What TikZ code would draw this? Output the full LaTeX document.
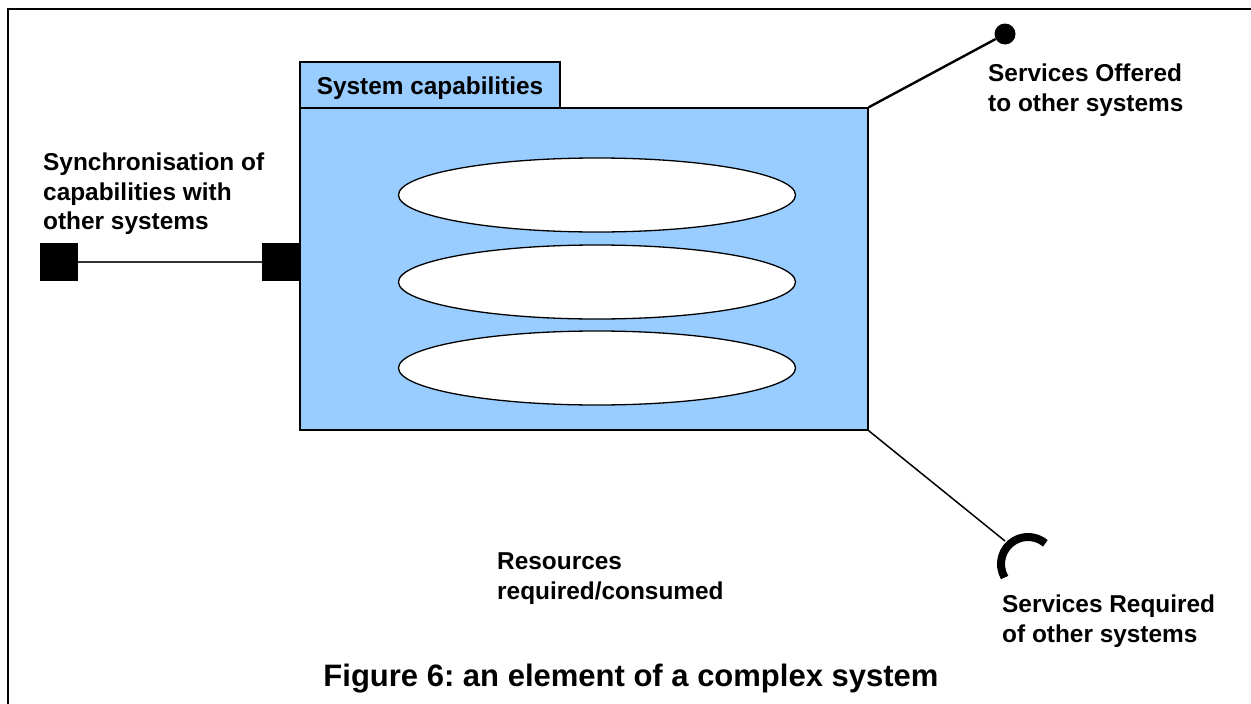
\documentclass[tikz,border=0pt]{standalone}
\usepackage{fontspec}
\setmainfont{Liberation Sans}
\usetikzlibrary{shapes.geometric}
\definecolor{capblue}{HTML}{99CCFF}
\frenchspacing
\begin{document}
\begin{tikzpicture}[x=1pt,y=-1pt,
  lbl/.style={font=\fontsize{24.4}{29.3}\selectfont\bfseries, inner sep=0pt, align=left, anchor=north west},
  capbox/.style={draw=black, line width=1.5pt, fill=capblue, rectangle, inner sep=0pt},
  usecase/.style={draw=black, line width=1.3pt, fill=white, ellipse, inner sep=0pt,
                  minimum width=397pt, minimum height=74pt},
  port/.style={fill=black, rectangle, inner sep=0pt, minimum size=38pt},
  offered/.style={fill=black, circle, inner sep=0pt, minimum size=21pt}]
  \useasboundingbox (0,0) rectangle (1251,704);
  \fill[white] (0,0) rectangle (1251,704);
  % outer frame (left and top edges)
  \draw[line width=2pt] (8,704) -- (8,9) -- (1251,9);

  % component body with its title tab
  \node[capbox, minimum width=260pt, minimum height=46pt] (tab) at (430,85) {};
  \node[lbl, anchor=base] at (430,94) {System capabilities};
  \node[capbox, minimum width=568pt, minimum height=322pt] (sys) at (584,269) {};

  % capabilities
  \node[usecase] (e1) at (597,195) {};
  \node[usecase] (e2) at (597,282) {};
  \node[usecase] (e3) at (597,368) {};

  % synchronisation ports
  \node[port] (sqL) at (59,262) {};
  \node[port] (sqR) at (281,262) {};
  \draw[line width=1.6pt, draw=black!80] (sqL.east) -- (sqR.west);

  % offered interface (lollipop)
  \node[offered] (dotO) at (1005,34) {};
  \draw[line width=2.4pt] (sys.north east) -- (dotO);

  % required interface (socket)
  \coordinate (reqc) at (1028,564);
  \coordinate (reqtip) at (1005,541);
  \draw[line width=1.5pt] (sys.south east) -- (reqtip);
  \draw[line width=8pt] (reqc) ++(-210:27) arc[start angle=-210, end angle=-50, radius=27];

  % labels
  \node[lbl] (tOff) at (988,64) {Services Offered\\to other systems};
  \node[lbl] (tSync) at (43,153) {Synchronisation of\\capabilities with\\other systems};
  \node[lbl] (tRes) at (497,553) {Resources\\required/consumed};
  \node[lbl] (tReq) at (1002,595) {Services Required\\of other systems};
  \node[font=\fontsize{31}{36}\selectfont\bfseries, inner sep=0pt, anchor=base] (cap) at (631,686)
    {Figure 6: an element of a complex system};
\end{tikzpicture}
\end{document}
